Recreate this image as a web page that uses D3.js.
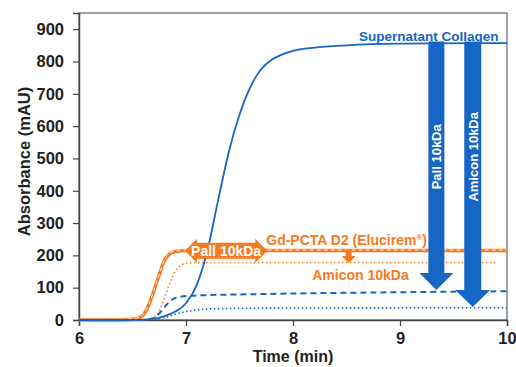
<!DOCTYPE html>
<html>
<head>
<meta charset="utf-8">
<script src="https://cdn.jsdelivr.net/npm/d3@7"></script>
<style>
  body { margin: 0; background: #fff; }
  text { font-family: "Liberation Sans", Arial, sans-serif; font-weight: bold; }
</style>
</head>
<body>
<svg id="chart" width="516" height="367"></svg>
<script>
// values (time in min, absorbance in mAU)
var collagenT = [6, 6.5, 6.6, 6.7, 6.8, 6.9, 7.0, 7.1, 7.2, 7.3, 7.4, 7.5, 7.6, 7.7, 7.8, 7.9, 8.0, 8.2, 8.5, 9.0, 10];
var collagenV = [0, 0, 1, 4, 12, 26, 52, 108, 215, 370, 520, 635, 720, 775, 805, 822, 833, 843, 850, 855, 857];

var gdT = [6, 6.4, 6.5, 6.55, 6.6, 6.65, 6.7, 6.75, 6.8, 6.85, 6.9, 7.0, 8.0, 10];
var gdV = [0, 0, 2, 5, 15, 45, 90, 140, 185, 205, 212, 215, 215, 215];

var gdAmiconT = [6, 6.6, 6.7, 6.75, 6.8, 6.85, 6.9, 6.95, 7.0, 7.1, 8.0, 9.9];
var gdAmiconV = [0, 0, 8, 30, 70, 115, 150, 168, 175, 178, 178, 178];

var colPallT = [6, 6.6, 6.7, 6.75, 6.8, 6.85, 6.9, 7.0, 7.2, 7.5, 8.0, 9.0, 10];
var colPallV = [0, 0, 6, 20, 40, 58, 68, 74, 77, 79, 82, 86, 89];

var colAmiconT = [6, 6.6, 6.7, 6.8, 6.9, 7.0, 7.1, 7.2, 7.5, 8.0, 10];
var colAmiconV = [0, 0, 2, 8, 18, 26, 31, 34, 36, 37, 38];

var xTicks = [6, 7, 8, 9, 10];
var yTicks = [0, 100, 200, 300, 400, 500, 600, 700, 800, 900];

var blue = "#1666c5", orange = "#f57a22";

var svg = d3.select("#chart");
var margin = {left: 79, right: 9, top: 13, bottom: 47};
var W = 516, H = 367;

var x = d3.scaleLinear().domain([6, 10]).range([margin.left, W - margin.right]);
var y = d3.scaleLinear().domain([0, 950]).range([H - margin.bottom, margin.top]);

// frame
svg.append("rect")
    .attr("x", x(6)).attr("y", y(950))
    .attr("width", x(10) - x(6)).attr("height", y(0) - y(950))
    .attr("fill", "none").attr("stroke", "#444").attr("stroke-width", 1);

var xAxis = svg.append("g")
    .attr("transform", "translate(0," + y(0) + ")")
    .call(d3.axisBottom(x).tickValues(xTicks).tickSize(6).tickPadding(6).tickFormat(d3.format("d")));
var yAxis = svg.append("g")
    .attr("transform", "translate(" + x(6) + ",0)")
    .call(d3.axisLeft(y).tickValues(yTicks).tickSize(6).tickPadding(9));
[xAxis, yAxis].forEach(function (g) {
    g.select(".domain").attr("stroke", "#444").attr("stroke-width", 1.5);
    g.selectAll(".tick line").attr("stroke", "#444").attr("stroke-width", 1.2);
    g.selectAll(".tick text").attr("fill", "#222")
        .style("font-family", "Liberation Sans, Arial, sans-serif").style("font-weight", "bold");
});
xAxis.selectAll(".tick text").style("font-size", "16.5px");
yAxis.selectAll(".tick text").style("font-size", "16.5px");

svg.append("text").attr("x", (x(6) + x(10)) / 2).attr("y", 362)
    .attr("text-anchor", "middle").attr("fill", "#222").style("font-size", "16px").text("Time (min)");
svg.append("text").attr("transform", "translate(30," + ((y(0) + y(950)) / 2 - 5) + ") rotate(-90)")
    .attr("text-anchor", "middle").attr("fill", "#222").style("font-size", "16.5px").text("Absorbance (mAU)");

function zip(ts, vs) { return ts.map(function (t, i) { return [t, vs[i]]; }); }
var line = d3.line().x(function (d) { return x(d[0]); }).y(function (d) { return y(d[1]); })
    .curve(d3.curveMonotoneX);

var plot = svg.append("g");
function draw(data, color, width, dash, dy) {
    plot.append("path").datum(data)
        .attr("d", line)
        .attr("transform", dy ? "translate(0," + dy + ")" : null)
        .attr("fill", "none").attr("stroke", color).attr("stroke-width", width)
        .attr("stroke-dasharray", dash);
}

draw(zip(colAmiconT, colAmiconV), blue, 1.6, "1.5,2.5");
draw(zip(colPallT, colPallV), blue, 2, "6,4");
draw(zip(gdAmiconT, gdAmiconV), orange, 1.6, "1.5,2.5");
draw(zip(gdT, gdV), orange, 3.5, null);
draw(zip(gdT, gdV), "#fff", 0.9, "4,3", -0.6);
draw(zip(collagenT, collagenV), blue, 1.8, null);

// annotations
var ann = svg.append("g");
ann.append("text").attr("x", x(9.92)).attr("y", y(880) + 5).attr("text-anchor", "end")
    .attr("fill", blue).style("font-size", "13.5px").text("Supernatant Collagen");

var gdLabel = ann.append("text").attr("x", x(7.75)).attr("y", y(232)).attr("fill", orange).style("font-size", "14px");
gdLabel.append("tspan").text("Gd-PCTA D2 (Elucirem");
gdLabel.append("tspan").attr("dy", -5).style("font-size", "8px").text("®");
gdLabel.append("tspan").attr("dy", 5).text(")");

ann.append("text").attr("x", x(8.18)).attr("y", y(125)).attr("fill", orange)
    .style("font-size", "14px").text("Amicon 10kDa");

// down arrow: center time, top value, tip value
function downArrow(t, vTop, vTip, shaft, head, headLen, color) {
    var cx = x(t), y0 = y(vTop), y1 = y(vTip), hs = y1 - headLen;
    var pts = [[cx - shaft / 2, y0], [cx + shaft / 2, y0], [cx + shaft / 2, hs], [cx + head / 2, hs],
        [cx, y1], [cx - head / 2, hs], [cx - shaft / 2, hs]];
    ann.append("polygon").attr("points", pts.join(" ")).attr("fill", color);
}
downArrow(9.34, 862, 93, 16, 34, 17, blue);
downArrow(9.68, 862, 40, 17, 35, 17, blue);
downArrow(8.52, 218, 176, 6, 14, 7, orange);

ann.append("text").attr("transform", "translate(" + (x(9.34) + 5) + "," + y(505) + ") rotate(-90)")
    .attr("text-anchor", "middle").attr("fill", "#fff").style("font-size", "13px").text("Pall 10kDa");
ann.append("text").attr("transform", "translate(" + (x(9.68) + 5) + "," + y(505) + ") rotate(-90)")
    .attr("text-anchor", "middle").attr("fill", "#fff").style("font-size", "13px").text("Amicon 10kDa");

// horizontal double arrow
(function () {
    var xa = x(6.99), xb = x(7.76), cy = y(214), hl = 12, bh = 8, hh = 12;
    var pts = [[xa, cy], [xa + hl, cy - hh], [xa + hl, cy - bh], [xb - hl, cy - bh], [xb - hl, cy - hh],
        [xb, cy], [xb - hl, cy + hh], [xb - hl, cy + bh], [xa + hl, cy + bh], [xa + hl, cy + hh]];
    ann.append("polygon").attr("points", pts.join(" ")).attr("fill", orange);
    ann.append("text").attr("x", (xa + xb) / 2).attr("y", cy + 5).attr("text-anchor", "middle")
        .attr("fill", "#fff").style("font-size", "14px").text("Pall 10kDa");
})();
</script>
</body>
</html>
